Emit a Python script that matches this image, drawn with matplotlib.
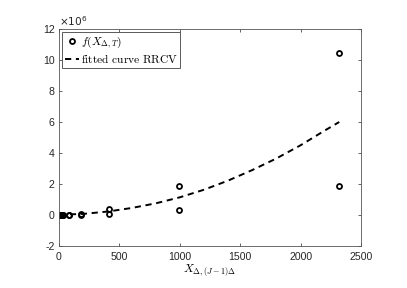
import matplotlib
matplotlib.use("Agg")
import matplotlib.pyplot as plt

# data (y values in millions)
x_obs = [3, 7, 15.5, 36, 83, 180, 417, 991, 2320]
y_high = [0.0, 0.0, 0.0, 0.002, 0.013, 0.06, 0.37, 1.87, 10.43]
y_low = [0.0, 0.0, 0.0, 0.0005, 0.0025, 0.012, 0.06, 0.34, 1.87]

x_fit = [0, 200, 400, 600, 800, 1000, 1200, 1400, 1600, 1800, 2000, 2200, 2320]
y_fit = [0.02, 0.07, 0.22, 0.45, 0.75, 1.14, 1.63, 2.22, 2.9, 3.65, 4.5, 5.45, 6.0]

xticks = [0, 500, 1000, 1500, 2000, 2500]
yticks = [-2, 0, 2, 4, 6, 8, 10, 12]

ax_col = '#262626'
fig = plt.figure(figsize=(4.07, 2.88), dpi=100)
ax = fig.add_axes([59/407, 42/288, 302/407, 217/288])

mk = dict(marker='o', ls='none', mfc='none', mec='black', ms=3.6, mew=1.3)
h1, = ax.plot(x_obs, y_high, **mk)
ax.plot(x_obs, y_low, **mk)
h2, = ax.plot(x_fit, y_fit, ls=(0, (3.2, 2.4)), color='black', lw=1.4)

ax.set_xlim(0, 2500)
ax.set_ylim(-2, 12)
ax.set_xticks(xticks)
ax.set_yticks(yticks)
ax.set_xticklabels([str(v) for v in xticks], family='Liberation Sans', fontsize=7.6, color=ax_col)
ax.set_yticklabels([str(v) for v in yticks], family='Liberation Sans', fontsize=7.6, color=ax_col)
ax.tick_params(direction='in', length=2.5, width=0.5, colors=ax_col, top=True, right=True,
               labelcolor=ax_col, pad=3)
ax.tick_params(axis='x', pad=4.5)
for s in ax.spines.values():
    s.set_linewidth(0.6)
    s.set_color('#555555')

ax.text(0.0, 1.005, r'$\times 10^{6}$', transform=ax.transAxes, fontsize=7.6,
        family='Liberation Sans', math_fontfamily='dejavusans', color=ax_col,
        ha='left', va='bottom')

ax.set_xlabel(r'$X_{\Delta,(J-1)\Delta}$', fontsize=8.5, math_fontfamily='cm', labelpad=0.5)

leg = ax.legend([h1, h2], [r'$f(X_{\Delta,T})$', r'$\mathrm{fitted\ curve\ RRCV}$'],
                loc='upper left', prop={'size': 8.3, 'math_fontfamily': 'cm'},
                fancybox=False, framealpha=1, edgecolor='#404040',
                borderpad=0.2, handlelength=1.2, handletextpad=0.2, labelspacing=0.15,
                borderaxespad=0.3, markerscale=1.0)
leg.get_frame().set_linewidth(0.6)

fig.savefig('out.png', dpi=100)
